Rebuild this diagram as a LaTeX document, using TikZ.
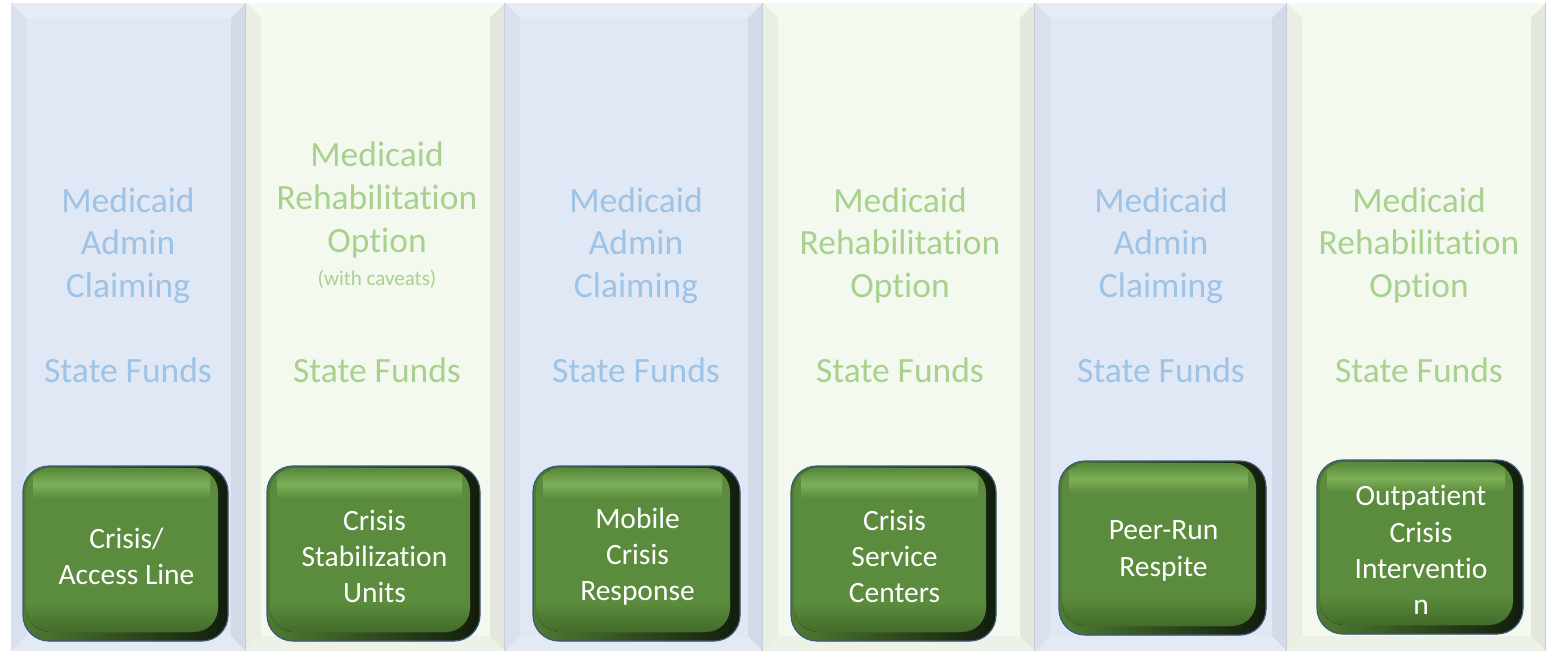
\documentclass[tikz,border=0pt]{standalone}
\usepackage{fontspec}
\setmainfont{Carlito}[Ligatures={NoCommon}, RawFeature=-calt]
\definecolor{bmain}{HTML}{E1E8F5}
\definecolor{bleft}{HTML}{D9E0EE}
\definecolor{bright}{HTML}{D3DAE7}
\definecolor{btop}{HTML}{E5ECF7}
\definecolor{bbot}{HTML}{E4EAF4}
\definecolor{gmain}{HTML}{F3F9EE}
\definecolor{gleft}{HTML}{E9EFE4}
\definecolor{gright}{HTML}{E3E8DF}
\definecolor{gtop}{HTML}{F5FAF0}
\definecolor{gbot}{HTML}{EDF2E9}
\definecolor{btxt}{HTML}{9DC3E6}
\definecolor{gtxt}{HTML}{A9D18E}
\definecolor{edgeL}{HTML}{4F7C33}
\definecolor{edgeR}{HTML}{121C0C}
\definecolor{btnbody}{HTML}{5B8B3C}
\definecolor{btnhi}{HTML}{7EB058}
\definecolor{btndk}{HTML}{436B2A}
\definecolor{boxline}{HTML}{3D5A7C}
\definecolor{sepline}{HTML}{C6CDD6}
\begin{document}
\begin{tikzpicture}[x=1pt,y=-1pt,
  hb/.style={text=btxt, font=\fontsize{35.5}{42.7}\selectfont, anchor=base, inner sep=0pt},
  hg/.style={text=gtxt, font=\fontsize{35.5}{42.7}\selectfont, anchor=base, inner sep=0pt},
  hsmall/.style={text=gtxt, font=\fontsize{21}{25}\selectfont, anchor=base, inner sep=0pt},
  boxtxt/.style={text=white, font=\fontsize{29.5}{36.3}\selectfont, align=center, inner sep=0pt}]
\useasboundingbox (0,0) rectangle (1546,651);
\fill[white] (0,0) rectangle (1546,651);
% columns
\foreach \xa/\xb/\k in {11/246/b, 246/505/g, 505/763/b, 763/1035/g, 1035/1287/b, 1287/1546/g} {
  \fill[fill=\k main] (\xa,3) rectangle (\xb,651);
  \fill[fill=\k top] (\xa,3) -- (\xb,3) -- (\xb-15,18) -- (\xa+15,18) -- cycle;
  \fill[fill=\k bot] (\xa,651) -- (\xb,651) -- (\xb-15,636) -- (\xa+15,636) -- cycle;
  \fill[fill=\k left] (\xa,3) -- (\xa+15,18) -- (\xa+15,636) -- (\xa,651) -- cycle;
  \fill[fill=\k right] (\xb,3) -- (\xb-15,18) -- (\xb-15,636) -- (\xb,651) -- cycle;
  \draw[sepline, line width=1.2pt] (\xb-0.6,3) -- (\xb-0.6,651);
}
% headings
\node[hb] (c1a) at (128,212) {Medicaid};
\node[hb] (c1b) at (128,254) {Admin};
\node[hb] (c1c) at (128,297) {Claiming};
\node[hb] (c1d) at (128,382) {State Funds};
\node[hg] (c2a) at (377,166) {Medicaid};
\node[hg] (c2b) at (377,209) {Rehabilitation};
\node[hg] (c2c) at (377,252) {Option};
\node[hsmall] (c2e) at (377,285) {(with caveats)};
\node[hg] (c2d) at (377,382) {State Funds};
\node[hb] (c3a) at (636,212) {Medicaid};
\node[hb] (c3b) at (636,254) {Admin};
\node[hb] (c3c) at (636,297) {Claiming};
\node[hb] (c3d) at (636,382) {State Funds};
\node[hg] (c4a) at (900,212) {Medicaid};
\node[hg] (c4b) at (900,254) {Rehabilitation};
\node[hg] (c4c) at (900,297) {Option};
\node[hg] (c4d) at (900,382) {State Funds};
\node[hb] (c5a) at (1161,212) {Medicaid};
\node[hb] (c5b) at (1161,254) {Admin};
\node[hb] (c5c) at (1161,297) {Claiming};
\node[hb] (c5d) at (1161,382) {State Funds};
\node[hg] (c6a) at (1419,212) {Medicaid};
\node[hg] (c6b) at (1419,254) {Rehabilitation};
\node[hg] (c6c) at (1419,297) {Option};
\node[hg] (c6d) at (1419,382) {State Funds};
% buttons
\foreach \n/\xa/\ya/\xb/\yb/\txt in {
  1/23/466/228/641/{Crisis/\\Access Line},
  2/267/466/480/641/{Crisis\\Stabilization\\Units},
  3/533/466/740/641/{Mobile\\Crisis\\Response},
  4/791/466/996/641/{Crisis\\Service\\Centers},
  5/1059/461/1266/635/{Peer-Run\\Respite},
  6/1317/460/1523/634/{Outpatient\\Crisis\\Interventio\\n}} {
  \fill[left color=edgeL, right color=edgeR, rounded corners=26pt] (\xa,\ya) rectangle (\xb,\yb);
  \begin{scope}
    \clip[rounded corners=24pt] (\xa+3,\ya+2) rectangle (\xb-10,\yb-9);
    \fill[btnbody] (\xa,\ya) rectangle (\xb,\yb);
    \fill[top color=btnbody, bottom color=btnbody, middle color=btnhi] (\xa+10,\ya+4) rectangle (\xb-18,\ya+32);
    \fill[top color=btnbody, bottom color=btndk] (\xa,\yb-38) rectangle (\xb,\yb-9);
  \end{scope}
  \draw[boxline, line width=1.2pt, rounded corners=26pt] (\xa,\ya) rectangle (\xb,\yb);
  \node[boxtxt] (box\n) at ({(\xa+\xb)/2+1},{(\ya+\yb)/2+3}) {\txt};
}
\end{tikzpicture}
\end{document}
